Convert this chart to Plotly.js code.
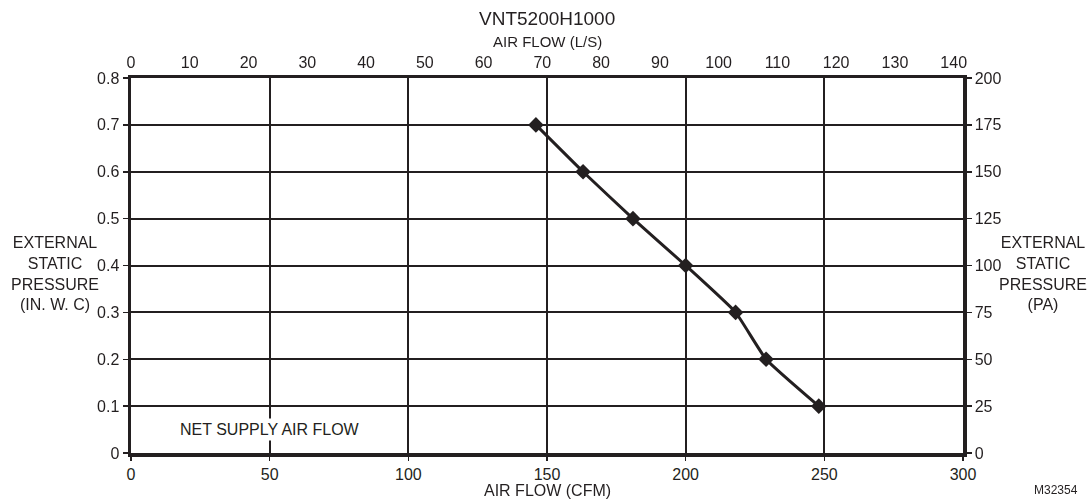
<!DOCTYPE html>
<html>
<head>
<meta charset="utf-8">
<script src="https://cdn.plot.ly/plotly-3.0.1.min.js"></script>
<style>html,body{margin:0;padding:0;background:#fff;}#chart{width:1092px;height:500px;}</style>
</head>
<body>
<div id="chart"></div>
<script>
// Data
const airflowCFM = [146, 163, 181, 200, 218, 229, 248];
const staticPressureInWC = [0.7, 0.6, 0.5, 0.4, 0.3, 0.2, 0.1];
const cfmTicks = [0, 50, 100, 150, 200, 250, 300];
const lsTicks = [0, 10, 20, 30, 40, 50, 60, 70, 80, 90, 100, 110, 120, 130, 140];
const inwcTicks = [0, 0.1, 0.2, 0.3, 0.4, 0.5, 0.6, 0.7, 0.8];
const paTicks = [0, 25, 50, 75, 100, 125, 150, 175, 200];

const CFM_TO_LS = 0.471947;
const INWC_TO_PA = 250; // axis scale alignment 0.8 in.w.c. <-> 200 Pa

const ink = '#231f20';
const fontFam = '"Liberation Sans", Arial, Helvetica, sans-serif';

const traces = [
  {
    x: airflowCFM, y: staticPressureInWC, type: 'scatter', mode: 'lines+markers',
    line: {color: ink, width: 3, shape: 'spline', smoothing: 0.4},
    marker: {symbol: 'diamond', size: 12, color: ink},
    xaxis: 'x', yaxis: 'y', hoverinfo: 'x+y', showlegend: false
  },
  {
    x: airflowCFM.map(v => v * CFM_TO_LS), y: staticPressureInWC.map(v => v * INWC_TO_PA),
    type: 'scatter', mode: 'markers', opacity: 0, marker: {size: 1},
    xaxis: 'x2', yaxis: 'y2', hoverinfo: 'skip', showlegend: false
  }
];

const tickFont = {family: fontFam, size: 16, color: ink};

const layout = {
  width: 1092, height: 500,
  margin: {l: 131, r: 129, t: 78, b: 47},
  paper_bgcolor: '#fff', plot_bgcolor: '#fff',
  font: {family: fontFam, color: ink},
  showlegend: false,
  xaxis: {
    range: [0, 300], tickvals: cfmTicks, ticktext: cfmTicks.map(String),
    showgrid: true, gridcolor: ink, gridwidth: 2, zeroline: false,
    showline: true, linecolor: ink, linewidth: 3.5,
    ticks: 'outside', ticklen: 4, tickwidth: 1.5, tickcolor: ink,
    tickfont: tickFont, fixedrange: true
  },
  yaxis: {
    range: [0, 0.8], tickvals: inwcTicks, ticktext: inwcTicks.map(v => v === 0 ? '0' : v.toFixed(1)),
    showgrid: true, gridcolor: ink, gridwidth: 2, zeroline: false,
    showline: true, linecolor: ink, linewidth: 3.5,
    ticks: 'outside', ticklen: 5, tickwidth: 1.5, tickcolor: ink,
    tickfont: tickFont, fixedrange: true
  },
  xaxis2: {
    overlaying: 'x', side: 'top', anchor: 'y',
    range: [0, 300 * CFM_TO_LS], tickvals: lsTicks, ticktext: lsTicks.map(String),
    showgrid: false, zeroline: false,
    showline: true, linecolor: ink, linewidth: 3.5,
    ticks: '', tickfont: tickFont, fixedrange: true
  },
  yaxis2: {
    overlaying: 'y', side: 'right', anchor: 'x',
    range: [0, 0.8 * INWC_TO_PA], tickvals: paTicks, ticktext: paTicks.map(String),
    showgrid: false, zeroline: false,
    showline: true, linecolor: ink, linewidth: 3.5,
    ticks: 'outside', ticklen: 5, tickwidth: 1.5, tickcolor: ink,
    tickfont: tickFont, fixedrange: true
  },
  annotations: [
    {text: 'VNT5200H1000', xref: 'paper', yref: 'paper', x: 0.5, y: 1.16, xanchor: 'center', yanchor: 'middle',
     showarrow: false, font: {family: fontFam, size: 19, color: ink}},
    {text: 'AIR FLOW (L/S)', xref: 'paper', yref: 'paper', x: 0.5, y: 1.096, xanchor: 'center', yanchor: 'middle',
     showarrow: false, font: {family: fontFam, size: 15, color: ink}},
    {text: 'AIR FLOW (CFM)', xref: 'paper', yref: 'paper', x: 0.5, y: -0.099, xanchor: 'center', yanchor: 'middle',
     showarrow: false, font: {family: fontFam, size: 16, color: ink}},
    {text: 'EXTERNAL<br>STATIC<br>PRESSURE<br>(IN. W. C)', xref: 'paper', yref: 'paper', x: -0.0913, y: 0.479,
     xanchor: 'center', yanchor: 'middle', align: 'center', showarrow: false, font: {family: fontFam, size: 16, color: ink}},
    {text: 'EXTERNAL<br>STATIC<br>PRESSURE<br>(PA)', xref: 'paper', yref: 'paper', x: 1.096, y: 0.479,
     xanchor: 'center', yanchor: 'middle', align: 'center', showarrow: false, font: {family: fontFam, size: 16, color: ink}},
    {text: 'NET SUPPLY AIR FLOW', xref: 'x', yref: 'y', x: 50, y: 0.05, xanchor: 'center', yanchor: 'middle',
     showarrow: false, bgcolor: '#fff', borderpad: 2, font: {family: fontFam, size: 16, color: ink}},
    {text: 'M32354', xref: 'paper', yref: 'paper', x: 1.112, y: -0.099, xanchor: 'center', yanchor: 'middle',
     showarrow: false, font: {family: fontFam, size: 12, color: ink}}
  ]
};

Plotly.newPlot('chart', traces, layout, {displayModeBar: false, staticPlot: true});
</script>
</body>
</html>
